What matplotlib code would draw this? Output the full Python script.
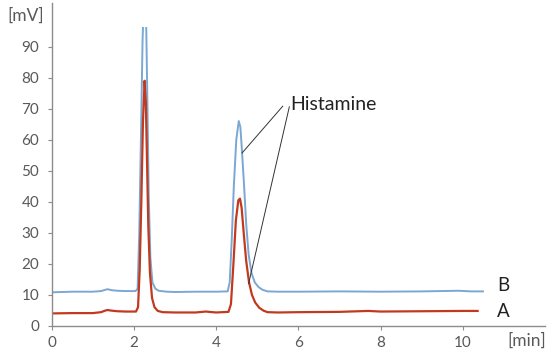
import numpy as np
import matplotlib.pyplot as plt

plt.rcParams["font.family"] = ["Lato", "DejaVu Sans"]

# trace B (blue); nan = off-scale top of first peak
time_b = [0, 0.5, 1.0, 1.2, 1.3, 1.36, 1.45, 1.6, 1.8, 2.04, 2.09, 2.13, 2.17, 2.21, 2.22, 2.26,
          2.30, 2.33, 2.36, 2.40, 2.45, 2.52, 2.6, 2.8, 3.0, 3.5, 4.0, 4.28, 4.33, 4.38, 4.43,
          4.49, 4.55, 4.59, 4.63, 4.68, 4.73, 4.79, 4.86, 4.94, 5.03, 5.13, 5.25, 5.5, 6, 7,
          8, 9, 9.9, 10.2, 10.49]
mv_b = [10.8, 11.0, 11.0, 11.2, 11.6, 11.8, 11.5, 11.3, 11.2, 11.2, 12, 30, 60, 92, 96, np.nan,
        96, 70, 42, 22, 14, 12, 11.3, 11.0, 10.9, 11.0, 11.0, 11.1, 14, 28, 45,
        60, 66, 64, 56, 45, 33, 23, 17, 14, 12.5, 11.6, 11.1, 11.0, 11.0, 11.1,
        11.0, 11.1, 11.3, 11.1, 11.1]

# trace A (red)
time_a = [0, 0.5, 1.0, 1.2, 1.3, 1.36, 1.45, 1.6, 1.8, 2.05, 2.10, 2.14, 2.18, 2.22, 2.26, 2.29,
          2.32, 2.35, 2.39, 2.44, 2.50, 2.58, 2.7, 3.0, 3.5, 3.75, 4.0, 4.30, 4.36, 4.42, 4.48,
          4.54, 4.58, 4.62, 4.67, 4.73, 4.80, 4.87, 4.95, 5.05, 5.15, 5.25, 5.5, 6, 7, 7.7,
          8, 9, 10, 10.36]
mv_a = [4.0, 4.1, 4.1, 4.4, 4.9, 5.1, 4.9, 4.7, 4.6, 4.6, 6, 18, 40, 66, 79, 72,
        52, 32, 17, 9, 6, 4.8, 4.4, 4.3, 4.3, 4.6, 4.3, 4.5, 7, 20, 34,
        40.5, 41, 38, 30, 21, 14, 10, 7.5, 5.8, 4.9, 4.4, 4.3, 4.4, 4.5, 4.8,
        4.6, 4.7, 4.8, 4.8]

x_ticks = [0, 2, 4, 6, 8, 10]
y_ticks = [0, 10, 20, 30, 40, 50, 60, 70, 80, 90]

TEXT = "#595959"
AXIS = "#8c8c8c"

fig = plt.figure(figsize=(5.5, 3.53), dpi=100)
ax = fig.add_axes([0.094, 0.077, 0.897, 0.914])

ax.plot(time_b, mv_b, color="#7ba7d3", lw=1.4)
ax.plot(time_a, mv_a, color="#c23a1e", lw=1.6)

ax.set_xlim(0, 12)
ax.set_ylim(0, 104)
ax.set_xticks(x_ticks)
ax.set_yticks(y_ticks)
ax.tick_params(colors=AXIS, labelcolor=TEXT, labelsize=11, length=3, width=0.8)
ax.tick_params(axis="y", pad=6)
ax.tick_params(axis="x", pad=4)

for side in ["top", "right"]:
    ax.spines[side].set_visible(False)
for side in ["left", "bottom"]:
    ax.spines[side].set_color(AXIS)
    ax.spines[side].set_linewidth(1.0)

fig.text(0.046, 0.955, "[mV]", color=TEXT, fontsize=12.5, ha="center", va="center")
fig.text(0.993, 0.036, "[min]", color=TEXT, fontsize=12.5, ha="right", va="center")

ax.text(10.83, 13, "B", fontsize=13.5, color="#222222", va="center")
ax.text(10.83, 4.5, "A", fontsize=13.5, color="#222222", va="center")

ax.text(5.80, 71.5, "Histamine", fontsize=14, color="#222222", va="center")
ax.plot([5.62, 4.63], [70.8, 55.7], color="#333333", lw=0.7)
ax.plot([5.78, 4.79], [70.6, 13.6], color="#333333", lw=0.7)

plt.savefig("out.png", dpi=100)
plt.close()
